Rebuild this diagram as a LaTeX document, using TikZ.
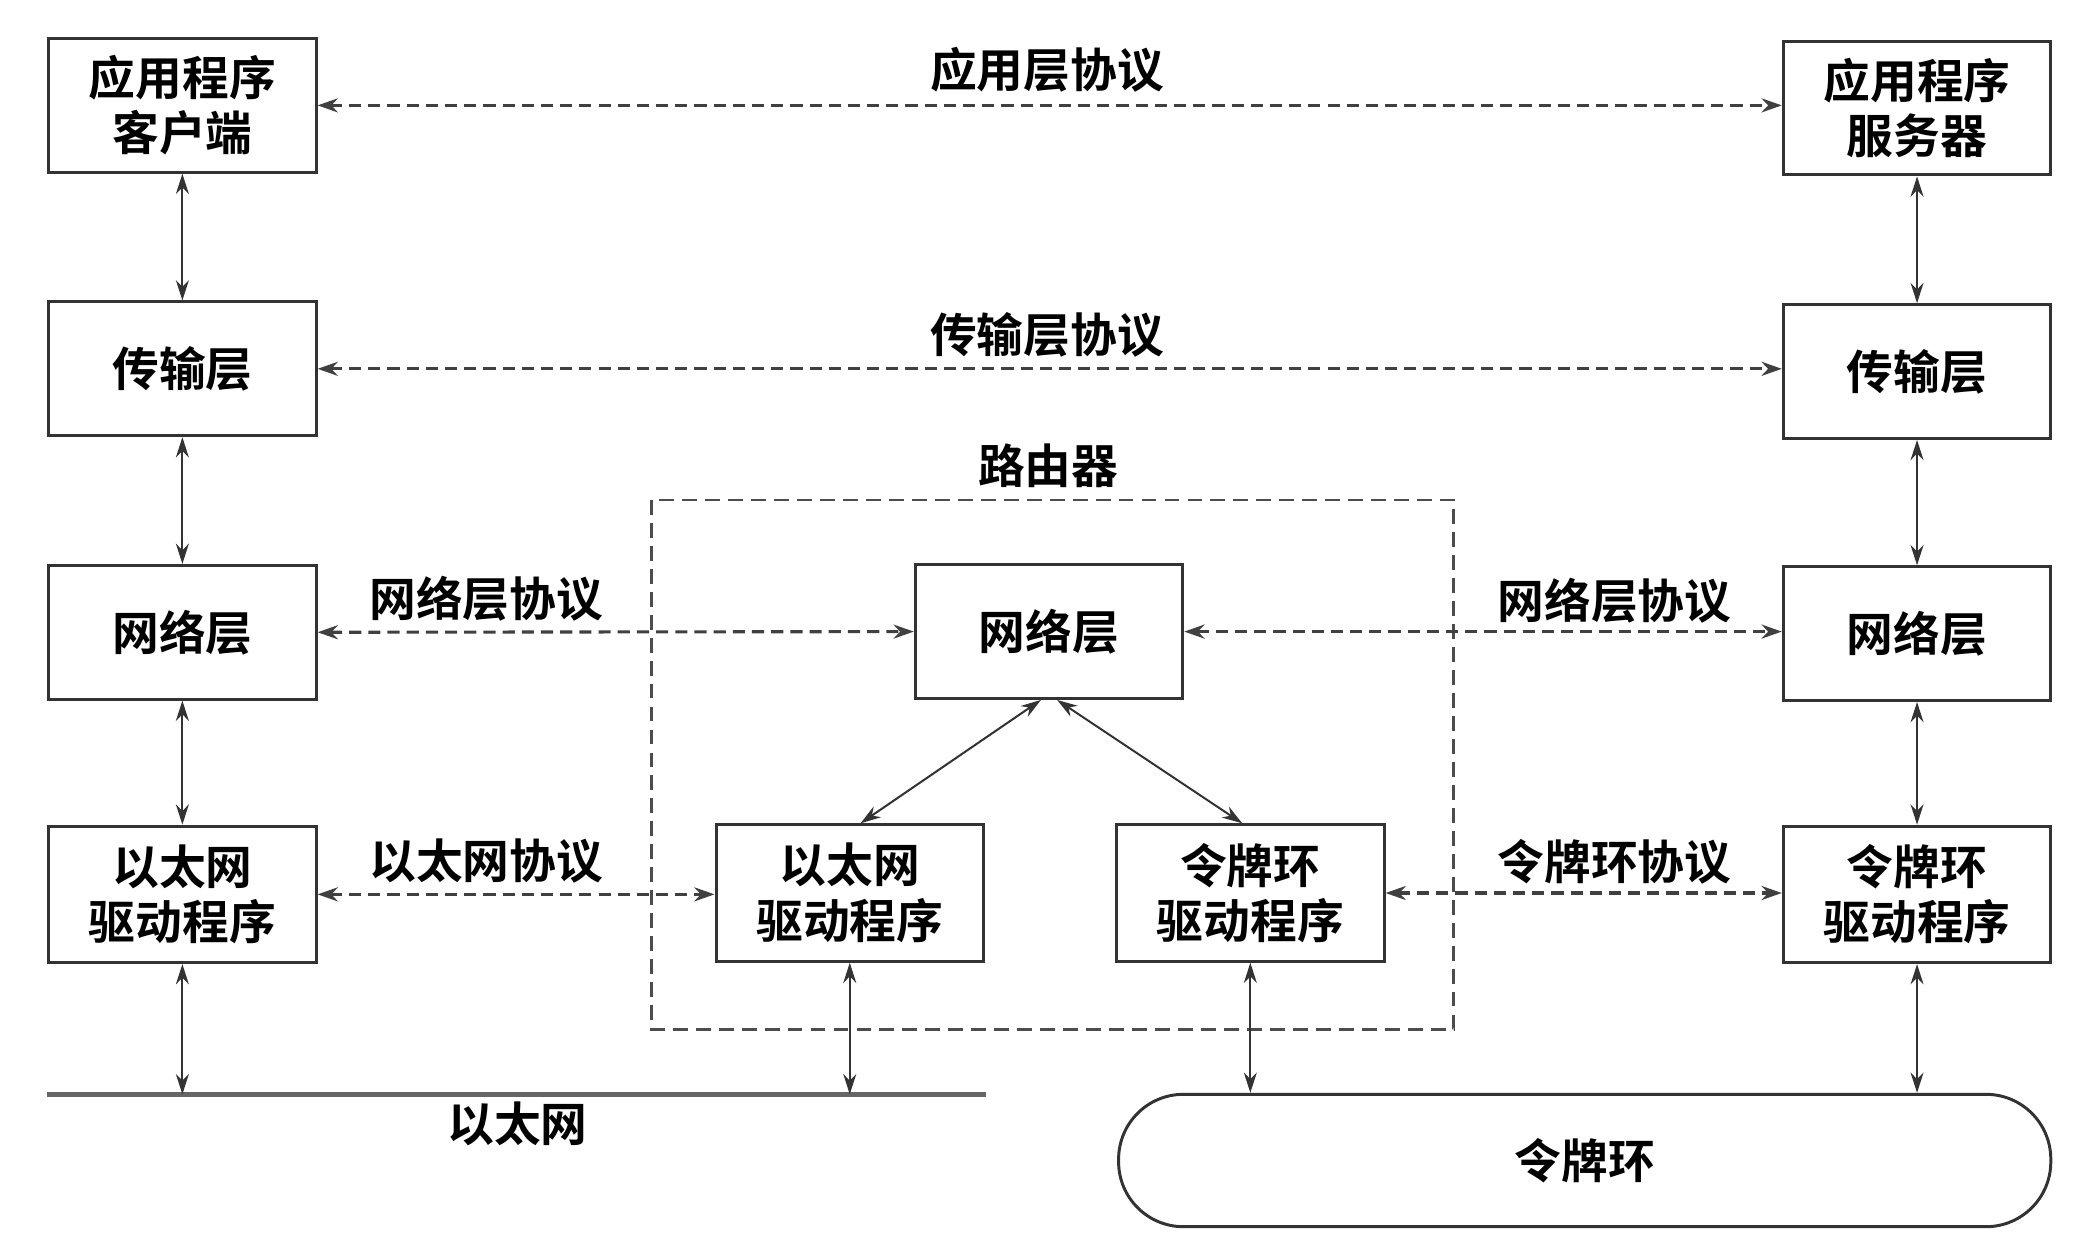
\documentclass[tikz,border=0pt]{standalone}
\usepackage{fontspec}
\newfontfamily\cjk{Noto Sans CJK SC}[BoldFont={Noto Sans CJK SC Bold}]
\usetikzlibrary{arrows.meta}
\begin{document}
\begin{tikzpicture}[x=0.5pt,y=-0.5pt,
  font=\cjk\bfseries\fontsize{17.3pt}{20.5pt}\selectfont,
  box/.style={draw=black!80,line width=1.1pt,minimum width=99pt,minimum height=49.5pt,inner sep=0pt,align=center,fill=white},
  tall/.style={box,minimum height=50.5pt},
  vline/.style={draw=black!80,line width=0.75pt,{Stealth[length=7.5pt,width=4.8pt]}-{Stealth[length=7.5pt,width=4.8pt]}},
  dline/.style={draw=black!75,line width=1.15pt,dash pattern=on 4.5pt off 2.6pt,{Stealth[length=7.5pt,width=5.2pt]}-{Stealth[length=7.5pt,width=5.2pt]}},
  lbl/.style={inner sep=0pt}
]
\useasboundingbox (0,0) rectangle (1550,916.4);
% router frame
\draw[draw=black!70,line width=1pt,dash pattern=on 5.5pt off 3pt] (482,370) rectangle (1076,762);
\node[lbl] (router) at (776,345) {路由器};
% left column
\node[box] (lapp) at (135,78) {应用程序\\客户端};
\node[box] (ltrn) at (135,273) {传输层};
\node[box] (lnet) at (135,468) {网络层};
\node[tall] (leth) at (135,662) {以太网\\驱动程序};
% right column
\node[box] (rapp) at (1419,80) {应用程序\\服务器};
\node[box] (rtrn) at (1419,275) {传输层};
\node[box] (rnet) at (1419,469) {网络层};
\node[tall] (rtok) at (1419,662) {令牌环\\驱动程序};
% router internals
\node[box] (mnet) at (776.5,467.5) {网络层};
\node[tall] (meth) at (629,661) {以太网\\驱动程序};
\node[tall] (mtok) at (925.5,661) {令牌环\\驱动程序};
% media
\coordinate (ethL) at (35,810);
\coordinate (ethR) at (730,810);
\draw[draw=black!60,line width=1.8pt] (ethL) -- (ethR);
\node[lbl] (ethlbl) at (383,832) {以太网};
\node[draw=black!80,line width=1.1pt,rounded corners=24pt,minimum width=345pt,minimum height=49pt,inner sep=0pt] (ring) at (1173,859) {令牌环};
\coordinate (e1) at (135,810);
\coordinate (e2) at (629,810);
% vertical connectors
\draw[vline] (lapp) -- (ltrn);
\draw[vline] (ltrn) -- (lnet);
\draw[vline] (lnet) -- (leth);
\draw[vline] (leth) -- (e1);
\draw[vline] (rapp) -- (rtrn);
\draw[vline] (rtrn) -- (rnet);
\draw[vline] (rnet) -- (rtok);
\draw[vline] (rtok) -- (rtok.south |- ring.north);
\draw[vline] (meth) -- (e2);
\draw[vline] (mtok) -- (mtok.south |- ring.north);
\draw[vline] ([xshift=-3pt]mnet.south) -- ([xshift=4pt]meth.north);
\draw[vline] ([xshift=3pt]mnet.south) -- ([xshift=-3pt]mtok.north);
% protocol connectors
\draw[dline] (lapp.east) -- (lapp.east -| rapp.west);
\node[lbl] (p1) at (775,52) {应用层协议};
\draw[dline] (ltrn.east) -- (ltrn.east -| rtrn.west);
\node[lbl] (p2) at (775,248) {传输层协议};
\draw[dline] (lnet.east) -- (mnet.west);
\node[lbl] (p3) at (360,443) {网络层协议};
\draw[dline] (mnet.east) -- (mnet.east -| rnet.west);
\node[lbl] (p4) at (1195,445) {网络层协议};
\draw[dline] (leth.east) -- (leth.east -| meth.west);
\node[lbl] (p5) at (360,637) {以太网协议};
\draw[dline] (mtok.east) -- (mtok.east -| rtok.west);
\node[lbl] (p6) at (1195,638) {令牌环协议};
\end{tikzpicture}
\end{document}
